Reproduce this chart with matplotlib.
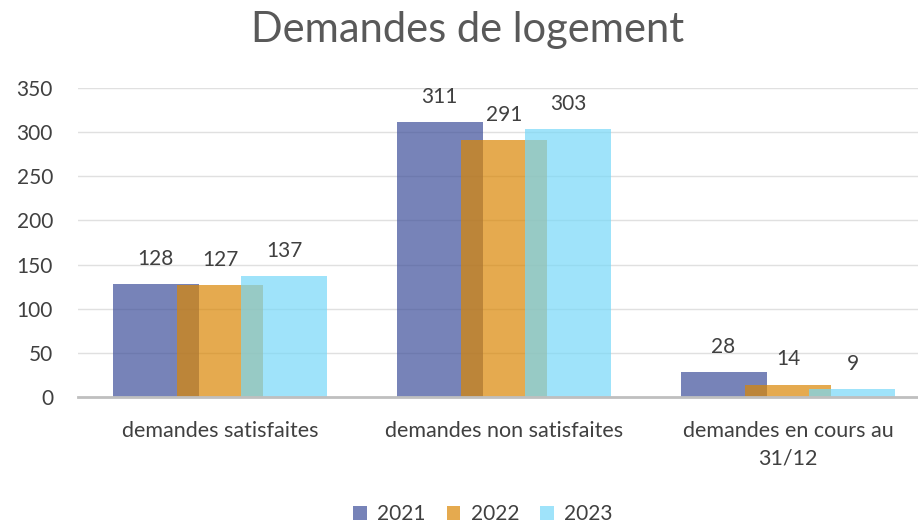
import matplotlib
matplotlib.use("Agg")
import matplotlib.pyplot as plt
from matplotlib.patches import Patch
import numpy as np

plt.rcParams['font.family'] = ['Lato', 'DejaVu Sans']

categories = ["demandes satisfaites", "demandes non satisfaites", "demandes en cours au\n31/12"]
years = ["2021", "2022", "2023"]
v2021 = [128, 311, 28]
v2022 = [127, 291, 14]
v2023 = [137, 303, 9]
series = [v2021, v2022, v2023]
colors = ["#3E4F9A", "#DA8604", "#77D8F8"]
alpha = 0.7

fig = plt.figure(figsize=(9.18, 5.23), dpi=100)
ax = fig.add_axes([78/918, 126/523, 852/918, 309/523])

x = np.arange(len(categories))
width = 0.303
step = 0.227
text_color = "#404040"

for i, (vals, col) in enumerate(zip(series, colors)):
    pos = x + (i - 1) * step
    bars = ax.bar(pos, vals, width=width, color=col, alpha=alpha, zorder=2 + i, linewidth=0)
    for b, v in zip(bars, vals):
        ax.annotate(str(v), (b.get_x() + b.get_width() / 2, v), xytext=(0, 11),
                    textcoords="offset points", ha="center", va="bottom",
                    fontsize=15, color=text_color)

ax.set_xlim(-0.5, 2.5)
ax.set_ylim(0, 350)
ax.set_yticks(np.arange(0, 351, 50))
ax.set_xticks(x)
ax.set_xticklabels(categories, fontsize=15.5, color=text_color, linespacing=1.5)
ax.tick_params(axis='x', length=0, pad=17)
ax.tick_params(axis='y', length=0, pad=18, labelsize=15, labelcolor=text_color)
ax.grid(axis='y', color="#e0e0e0", linewidth=1, zorder=0)
ax.set_axisbelow(True)
for s in ["top", "right", "left"]:
    ax.spines[s].set_visible(False)
ax.spines["bottom"].set_color("#bfbfbf")
ax.spines["bottom"].set_linewidth(2)
ax.spines["bottom"].set_zorder(10)

fig.text(468/918, 1 - 30/523, "Demandes de logement", ha="center", va="center",
         fontsize=30, color="#595959")

handles = [Patch(facecolor=c, alpha=alpha, edgecolor='none') for c in colors]
fig.legend(handles, years, loc="center", bbox_to_anchor=(483/918, 1 - 514/523), ncol=3,
           frameon=False, fontsize=15, handlelength=0.65, handleheight=0.65,
           handletextpad=0.5, columnspacing=1.0, labelcolor=text_color)

fig.savefig("out.png", dpi=100)
